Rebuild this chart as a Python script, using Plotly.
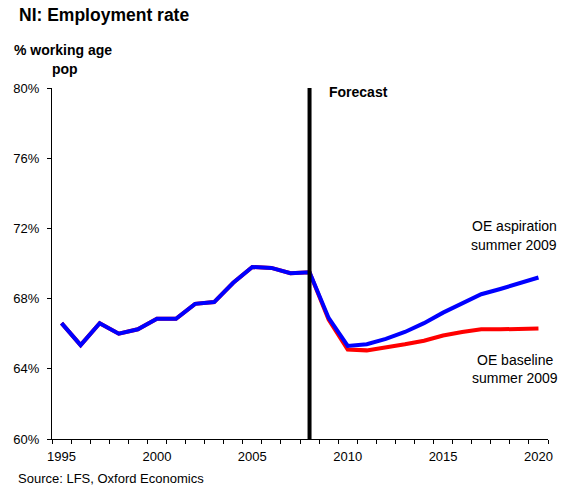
import plotly.graph_objects as go

# Northern Ireland employment rate, % of working-age population
years = list(range(1995, 2021))
aspiration = [66.6, 65.35, 66.6, 66.0, 66.25, 66.85, 66.85, 67.7, 67.8, 68.9,
              69.8, 69.75, 69.45, 69.5,
              66.9, 65.3, 65.4, 65.7, 66.1, 66.6, 67.2, 67.75, 68.25, 68.55,
              68.85, 69.2]
baseline = [66.6, 65.35, 66.6, 66.0, 66.25, 66.85, 66.85, 67.7, 67.8, 68.9,
            69.8, 69.75, 69.45, 69.5,
            66.8, 65.1, 65.05, 65.2, 65.4, 65.6, 65.9, 66.1, 66.25, 66.25,
            66.3, 66.3]
forecast_year = 2008
y_ticks = [60, 64, 68, 72, 76, 80]
x_labels = [1995, 2000, 2005, 2010, 2015, 2020]

W, H = 565, 488
L, R, T, B = 52, 13, 88, 49
PW, PH = W - L - R, H - T - B
FONT = "Liberation Sans, Arial, sans-serif"


def px(x):
    return (x - L) / PW


def py(y):
    return (H - B - y) / PH


fig = go.Figure()
fig.add_trace(go.Scatter(x=years, y=baseline, mode="lines",
                         line=dict(color="#ff0000", width=4),
                         name="OE baseline summer 2009"))
fig.add_trace(go.Scatter(x=years, y=aspiration, mode="lines",
                         line=dict(color="#0000ff", width=4),
                         name="OE aspiration summer 2009"))

# forecast divider
fig.add_shape(type="line", xref="x", yref="y", x0=forecast_year, x1=forecast_year,
              y0=60, y1=80.3, line=dict(color="black", width=4))

ann = [
    dict(text="<b>NI: Employment rate</b>", x=px(17), y=py(15), size=17.5, xanchor="left"),
    dict(text="<b>% working age</b>", x=px(12), y=py(50), size=14, xanchor="left"),
    dict(text="<b>pop</b>", x=px(65), y=py(69), size=14, xanchor="center"),
    dict(text="<b>Forecast</b>", x=px(329), y=py(92), size=14, xanchor="left"),
    dict(text="OE aspiration", x=px(518), y=py(226), size=14, xanchor="center"),
    dict(text="summer 2009", x=px(518), y=py(245), size=14, xanchor="center"),
    dict(text="OE baseline", x=px(519), y=py(360), size=14, xanchor="center"),
    dict(text="summer 2009", x=px(519), y=py(378), size=14, xanchor="center"),
    dict(text="Source: LFS, Oxford Economics", x=px(16), y=py(479), size=13, xanchor="left"),
]
for a in ann:
    fig.add_annotation(text=a["text"], x=a["x"], y=a["y"], xref="paper", yref="paper",
                       xanchor=a["xanchor"], yanchor="middle", showarrow=False,
                       font=dict(family=FONT, size=a["size"], color="black"))

# category boundaries for the year ticks
boundaries = [y - 0.5 for y in years] + [years[-1] + 0.5]

fig.update_layout(
    width=W, height=H,
    margin=dict(l=L, r=R, t=T, b=B, pad=0),
    paper_bgcolor="white", plot_bgcolor="white",
    showlegend=False,
    font=dict(family=FONT, size=13, color="black"),
    xaxis=dict(
        range=[1994.5, 2020.5], showgrid=False, zeroline=False,
        showline=True, linecolor="black", linewidth=1,
        tickmode="array", tickvals=boundaries, ticktext=[""] * len(boundaries),
        ticks="outside", ticklen=4, tickcolor="black", tickwidth=1,
    ),
    xaxis2=dict(
        range=[1994.5, 2020.5], overlaying="x", anchor="y", side="bottom",
        showgrid=False, zeroline=False, showline=False,
        tickmode="array", tickvals=x_labels, ticktext=[str(v) for v in x_labels],
        ticks="", ticklabelstandoff=8,
        tickfont=dict(family=FONT, size=13, color="black"),
    ),
    yaxis=dict(
        range=[60, 80], showgrid=False, zeroline=False,
        showline=True, linecolor="black", linewidth=1,
        tickmode="array", tickvals=y_ticks, ticktext=[f"{v}%" for v in y_ticks],
        ticks="outside", ticklen=4, tickcolor="black", tickwidth=1,
        ticklabelstandoff=5,
        tickfont=dict(family=FONT, size=13, color="black"),
    ),
)
# invisible trace so the label axis is drawn
fig.add_trace(go.Scatter(x=[years[0]], y=[None], xaxis="x2", yaxis="y",
                         mode="lines", showlegend=False, hoverinfo="skip"))

fig.write_html("out.html")
